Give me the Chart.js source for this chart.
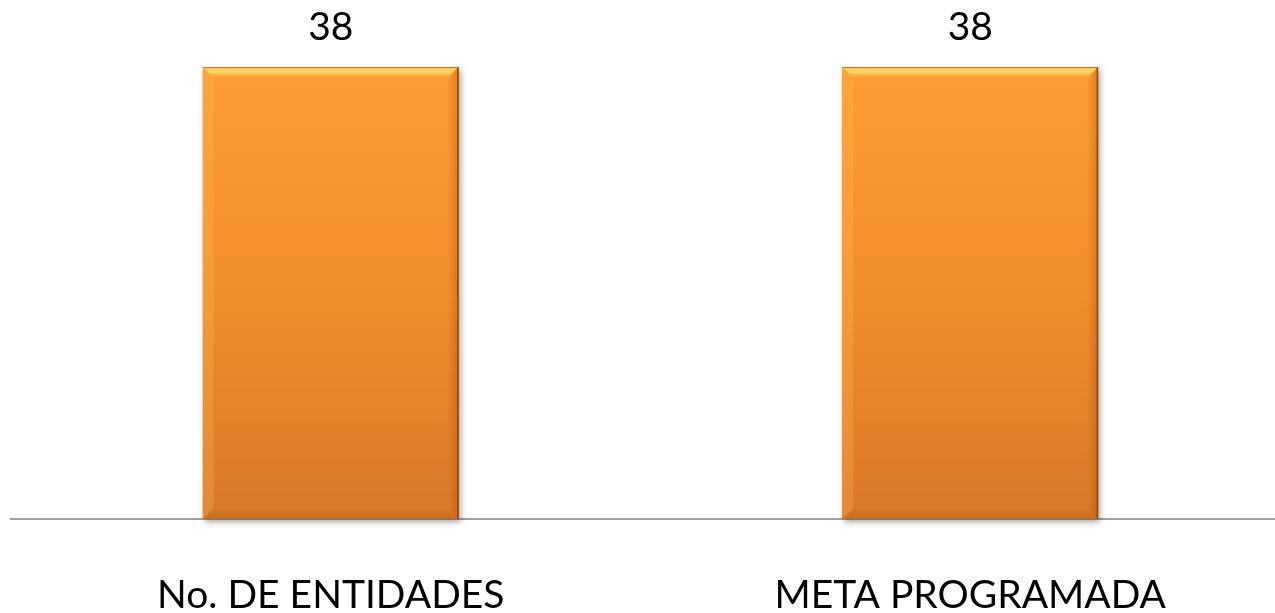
<!DOCTYPE html>
<html>
<head>
<meta charset="utf-8">
<script src="https://cdn.jsdelivr.net/npm/chart.js@4.4.0/dist/chart.umd.min.js"></script>
<style>
  html, body { margin: 0; padding: 0; background: #fff; overflow: hidden; }
  #wrap { width: 1275px; height: 613px; overflow: hidden; position: relative; }
  #box { width: 1300px; height: 613px; position: absolute; left: 0; top: 0; }
</style>
</head>
<body>
<div id="wrap"><div id="box"><canvas id="c"></canvas></div></div>
<script>
const categories = ["No. DE ENTIDADES", "META PROGRAMADA"];
const values = [38, 38];
const yMax = 38;

const FONT = "Lato, 'Open Sans', sans-serif";

function barGradient(ctx) {
  const chart = ctx.chart;
  const area = chart.chartArea;
  if (!area) return '#F28C28';
  const g = chart.ctx.createLinearGradient(0, area.top, 0, area.bottom);
  g.addColorStop(0, '#FF9C32');
  g.addColorStop(0.5, '#F28D2C');
  g.addColorStop(1, '#DA7727');
  return g;
}

const bevelPlugin = {
  id: 'bevel',
  afterDatasetsDraw(chart) {
    const c = chart.ctx;
    const meta = chart.getDatasetMeta(0);
    meta.data.forEach((bar, i) => {
      const l = bar.x - bar.width / 2, r = bar.x + bar.width / 2;
      const t = bar.y, b = bar.base;
      const s = 11;
      c.save();
      let g = c.createLinearGradient(0, t, 0, t + s);
      g.addColorStop(0, 'rgba(255,200,80,0.9)');
      g.addColorStop(0.45, 'rgba(255,222,110,0.95)');
      g.addColorStop(1, 'rgba(255,170,60,0.2)');
      c.fillStyle = g;
      c.beginPath();
      c.moveTo(l, t); c.lineTo(r, t); c.lineTo(r - s, t + s); c.lineTo(l + s, t + s); c.closePath();
      c.fill();
      c.fillStyle = 'rgba(255,190,90,0.25)';
      c.beginPath();
      c.moveTo(l, t); c.lineTo(l + s, t + s); c.lineTo(l + s, b - s); c.lineTo(l, b); c.closePath();
      c.fill();
      g = c.createLinearGradient(r - s, 0, r, 0);
      g.addColorStop(0, 'rgba(150,70,10,0.0)');
      g.addColorStop(1, 'rgba(150,70,10,0.35)');
      c.fillStyle = g;
      c.beginPath();
      c.moveTo(r, t); c.lineTo(r, b); c.lineTo(r - s, b - s); c.lineTo(r - s, t + s); c.closePath();
      c.fill();
      g = c.createLinearGradient(0, b - s, 0, b);
      g.addColorStop(0, 'rgba(160,80,20,0.0)');
      g.addColorStop(1, 'rgba(160,80,20,0.3)');
      c.fillStyle = g;
      c.beginPath();
      c.moveTo(l, b); c.lineTo(r, b); c.lineTo(r - s, b - s); c.lineTo(l + s, b - s); c.closePath();
      c.fill();
      c.strokeStyle = '#8A4A12';
      c.lineWidth = 1.5;
      c.beginPath(); c.moveTo(r - 0.75, t); c.lineTo(r - 0.75, b); c.stroke();
      c.strokeStyle = 'rgba(200,110,30,0.9)';
      c.lineWidth = 1;
      c.beginPath(); c.moveTo(l, t + 0.5); c.lineTo(r, t + 0.5); c.stroke();
      c.fillStyle = '#000';
      c.font = "39px " + FONT;
      c.textAlign = 'center';
      c.textBaseline = 'bottom';
      c.fillText(String(chart.data.datasets[0].data[i]), bar.x, t - 20);
      c.restore();
    });
  }
};

const shadowPlugin = {
  id: 'barShadow',
  beforeDatasetsDraw(chart) {
    const c = chart.ctx;
    c.save();
    c.shadowColor = 'rgba(0,0,0,0.35)';
    c.shadowBlur = 6;
    c.shadowOffsetX = 2;
    c.shadowOffsetY = 3;
    chart.getDatasetMeta(0).data.forEach(bar => {
      c.fillStyle = '#E0821F';
      c.fillRect(bar.x - bar.width / 2, bar.y, bar.width, bar.base - bar.y);
    });
    c.restore();
  }
};

new Chart(document.getElementById('c'), {
  type: 'bar',
  data: {
    labels: categories,
    datasets: [{
      data: values,
      backgroundColor: barGradient,
      borderWidth: 0,
      barPercentage: 0.4,
      categoryPercentage: 1.0
    }]
  },
  options: {
    responsive: true,
    maintainAspectRatio: false,
    animation: false,
    layout: { padding: { left: 11, right: 10, top: 67, bottom: 2 } },
    plugins: { legend: { display: false }, tooltip: { enabled: false } },
    scales: {
      x: {
        grid: { display: false, drawTicks: false },
        border: { display: true, color: '#A0A0A0', width: 2 },
        ticks: { color: '#000', font: { family: FONT, size: 39 }, padding: 53, maxRotation: 0 },
        afterFit(scale) { scale.height = 92; }
      },
      y: {
        display: false,
        min: 0,
        max: yMax
      }
    }
  },
  plugins: [shadowPlugin, bevelPlugin]
});
</script>
</body>
</html>
